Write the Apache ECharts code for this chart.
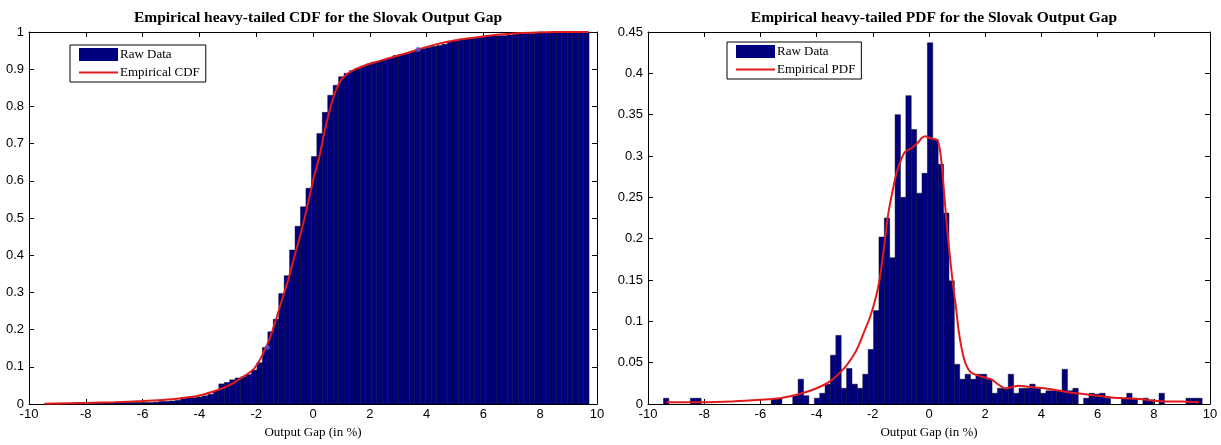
<!DOCTYPE html>
<html>
<head>
<meta charset="utf-8">
<script src="https://cdn.jsdelivr.net/npm/echarts@6/dist/echarts.min.js"></script>
<style>
  html, body { margin: 0; padding: 0; background: #fff; }
  #chart { width: 1221px; height: 445px; }
</style>
</head>
<body>
<div id="chart"></div>
<script>
// Histogram bins: 100 equal-width bins over the sample range
const BIN_START = -9.45;
const BIN_WIDTH = 0.1917;
const BIN_COUNT = 100;

// Cumulative share of observations per bin (left panel)
const cdfValues = [
  0.0015, 0.0015, 0.0015, 0.0015, 0.0015, 0.003, 0.004, 0.004, 0.004, 0.004,
  0.004, 0.004, 0.004, 0.004, 0.004, 0.004, 0.004, 0.004, 0.004, 0.004,
  0.005, 0.007, 0.007, 0.008, 0.010, 0.015, 0.017, 0.017, 0.019, 0.022,
  0.026, 0.035, 0.054, 0.058, 0.065, 0.070, 0.073, 0.079, 0.091, 0.111,
  0.152, 0.194, 0.228, 0.297, 0.345, 0.414, 0.478, 0.530, 0.580, 0.665,
  0.727, 0.784, 0.830, 0.857, 0.880, 0.889, 0.896, 0.902, 0.908, 0.914,
  0.919, 0.922, 0.926, 0.930, 0.937, 0.939, 0.943, 0.947, 0.951, 0.955,
  0.958, 0.961, 0.964, 0.967, 0.975, 0.978, 0.981, 0.981, 0.983, 0.985,
  0.987, 0.989, 0.990, 0.990, 0.990, 0.992, 0.994, 0.995, 0.995, 0.996,
  0.997, 0.997, 0.998, 0.998, 0.998, 0.998, 0.998, 0.999, 0.999, 1.000
];

// Density per bin (right panel)
const pdfValues = [
  0.007, 0, 0, 0, 0, 0.007, 0.007, 0, 0, 0,
  0, 0, 0, 0, 0, 0, 0, 0, 0, 0,
  0.006, 0.006, 0, 0, 0.010, 0.030, 0.010, 0, 0.007, 0.013,
  0.024, 0.059, 0.083, 0.019, 0.043, 0.024, 0.019, 0.036, 0.066, 0.113,
  0.202, 0.225, 0.177, 0.350, 0.250, 0.373, 0.332, 0.255, 0.279, 0.437,
  0.320, 0.290, 0.231, 0.149, 0.048, 0.030, 0.036, 0.030, 0.036, 0.036,
  0.030, 0.013, 0.019, 0.019, 0.036, 0.013, 0.019, 0.019, 0.024, 0.019,
  0.013, 0.016, 0.016, 0.016, 0.042, 0.016, 0.019, 0, 0.007, 0.013,
  0.012, 0.013, 0.007, 0, 0, 0.007, 0.013, 0.007, 0, 0.007,
  0.005, 0, 0.013, 0, 0, 0, 0, 0.007, 0.007, 0.007
];

// Smoothed empirical CDF curve: [gap %, probability]
const cdfCurve = [
  [-9.45, 0.001], [-8, 0.003], [-7, 0.005], [-6, 0.008], [-5.3, 0.011],
  [-4.7, 0.015], [-4.0, 0.023], [-3.3, 0.039], [-2.9, 0.052], [-2.6, 0.066],
  [-2.3, 0.081], [-2.1, 0.093], [-1.9, 0.115], [-1.75, 0.137], [-1.6, 0.162],
  [-1.45, 0.192], [-1.3, 0.228], [-1.15, 0.265], [-1.0, 0.302], [-0.85, 0.340],
  [-0.7, 0.383], [-0.55, 0.425], [-0.4, 0.467], [-0.25, 0.515], [-0.1, 0.565],
  [0.0, 0.600], [0.12, 0.635], [0.24, 0.670], [0.4, 0.730], [0.55, 0.778],
  [0.7, 0.820], [0.85, 0.851], [1.0, 0.872], [1.2, 0.887], [1.5, 0.900],
  [1.9, 0.912], [2.3, 0.921], [2.6, 0.928], [3.0, 0.937], [3.3, 0.943],
  [3.7, 0.953], [4.2, 0.964], [4.7, 0.973], [5.3, 0.981], [6.0, 0.988],
  [6.6, 0.993], [7.3, 0.997], [8.0, 0.999], [8.5, 1.0], [9.0, 1.0], [9.7, 1.0]
];

// Quantile markers on the CDF curve
const cdfMarkers = [[-1.6, 0.152], [3.7, 0.953]];

// Smoothed empirical PDF curve: [gap %, density]
const pdfCurve = [
  [-9.35, 0.002], [-8.5, 0.002], [-8, 0.002], [-7, 0.003], [-6, 0.005],
  [-5.3, 0.007], [-4.6, 0.012], [-4.0, 0.019], [-3.5, 0.028], [-3.0, 0.044],
  [-2.7, 0.058], [-2.5, 0.071], [-2.3, 0.088], [-2.1, 0.105], [-1.9, 0.128],
  [-1.75, 0.152], [-1.6, 0.190], [-1.45, 0.230], [-1.3, 0.257], [-1.15, 0.280],
  [-1.0, 0.295], [-0.85, 0.305], [-0.6, 0.310], [-0.4, 0.316], [-0.25, 0.322],
  [-0.12, 0.324], [0.0, 0.322], [0.12, 0.321], [0.3, 0.319], [0.42, 0.300],
  [0.55, 0.250], [0.65, 0.210], [0.77, 0.170], [0.87, 0.140], [0.95, 0.120],
  [1.05, 0.090], [1.13, 0.073], [1.22, 0.058], [1.3, 0.049], [1.42, 0.041],
  [1.55, 0.037], [1.78, 0.034], [2.0, 0.032], [2.2, 0.030], [2.5, 0.023],
  [2.7, 0.019], [2.9, 0.020], [3.2, 0.022], [3.5, 0.021], [3.8, 0.020],
  [4.1, 0.019], [4.5, 0.017], [5.0, 0.014], [5.5, 0.012], [6.0, 0.010],
  [6.5, 0.008], [7.0, 0.007], [7.5, 0.006], [8.0, 0.004], [8.5, 0.003],
  [9.0, 0.003], [9.6, 0.002]
];

const xTicks = { min: -10, max: 10, interval: 2 };

const BAR_FILL = '#00007f';
const LINE_RED = '#e01b1b';
const SANS = 'Liberation Sans';
const SERIF = 'Liberation Serif';

// [left edge, right edge, height] for each bin
function toBins(values) {
  const out = [];
  for (let i = 0; i < BIN_COUNT; i++) {
    if (values[i] > 0) {
      out.push([BIN_START + i * BIN_WIDTH, BIN_START + (i + 1) * BIN_WIDTH, values[i]]);
    }
  }
  return out;
}

function renderBin(params, api) {
  const top = api.coord([api.value(0), api.value(2)]);
  const base = api.coord([api.value(1), 0]);
  return {
    type: 'rect',
    shape: { x: top[0], y: top[1], width: base[0] - top[0], height: base[1] - top[1] },
    style: { fill: BAR_FILL, stroke: 'rgba(0,0,20,0.75)', lineWidth: 0.6 }
  };
}

function boxAxesX(grid) {
  const common = {
    gridIndex: grid, type: 'value', min: xTicks.min, max: xTicks.max, interval: xTicks.interval,
    axisLine: { show: true, onZero: false, lineStyle: { color: '#000', width: 1 } },
    axisTick: { show: true, inside: true, length: 5, lineStyle: { color: '#000' } },
    splitLine: { show: false }
  };
  return [
    Object.assign({}, common, {
      position: 'bottom',
      axisLabel: { color: '#000', fontFamily: SANS, fontSize: 13, margin: 4 },
      name: 'Output Gap (in %)', nameLocation: 'middle', nameGap: 21,
      nameTextStyle: { color: '#000', fontFamily: SERIF, fontSize: 13 }
    }),
    Object.assign({}, common, { position: 'top', axisLabel: { show: false } })
  ];
}

function boxAxesY(grid, max, interval) {
  const common = {
    gridIndex: grid, type: 'value', min: 0, max: max, interval: interval,
    axisLine: { show: true, onZero: false, lineStyle: { color: '#000', width: 1 } },
    axisTick: { show: true, inside: true, length: 5, lineStyle: { color: '#000' } },
    splitLine: { show: false }
  };
  return [
    Object.assign({}, common, {
      position: 'left',
      axisLabel: { color: '#000', fontFamily: SANS, fontSize: 13, margin: 5 }
    }),
    Object.assign({}, common, { position: 'right', axisLabel: { show: false } })
  ];
}

function legendBox(left, top, lineName) {
  return {
    orient: 'vertical', left: left, top: top,
    itemWidth: 39, itemHeight: 13, itemGap: 5,
    padding: [3, 6, 3, 8],
    borderColor: '#000', borderWidth: 1, backgroundColor: '#fff',
    selectedMode: false,
    textStyle: { color: '#000', fontFamily: SERIF, fontSize: 13, padding: [0, 0, 0, -3] },
    data: [
      { name: 'Raw Data', icon: 'rect' },
      { name: lineName, itemStyle: { opacity: 0 }, lineStyle: { color: LINE_RED, width: 2 } }
    ]
  };
}

const chart = echarts.init(document.getElementById('chart'), null, { renderer: 'canvas' });

chart.setOption({
  animation: false,
  backgroundColor: '#fff',
  title: [
    {
      text: 'Empirical heavy-tailed CDF for the Slovak Output Gap',
      left: 313, top: 5, textAlign: 'center',
      textStyle: { fontFamily: SERIF, fontWeight: 'bold', fontSize: 15.5, color: '#000' }
    },
    {
      text: 'Empirical heavy-tailed PDF for the Slovak Output Gap',
      left: 929, top: 5, textAlign: 'center',
      textStyle: { fontFamily: SERIF, fontWeight: 'bold', fontSize: 15.5, color: '#000' }
    }
  ],
  legend: [legendBox(70, 45, 'Empirical CDF'), legendBox(727, 42, 'Empirical PDF')],
  grid: [
    { left: 29, top: 32, width: 568, height: 372 },
    { left: 648, top: 32, width: 562, height: 372 }
  ],
  xAxis: boxAxesX(0).concat(boxAxesX(1)),
  yAxis: boxAxesY(0, 1, 0.1).concat(boxAxesY(1, 0.45, 0.05)),
  series: [
    {
      name: 'Raw Data', type: 'custom', xAxisIndex: 0, yAxisIndex: 0,
      renderItem: renderBin, encode: { x: [0, 1], y: 2 },
      itemStyle: { color: BAR_FILL }, data: toBins(cdfValues), z: 2
    },
    {
      name: 'Empirical CDF', type: 'line', xAxisIndex: 0, yAxisIndex: 0,
      data: cdfCurve, symbol: 'none', smooth: 0.3,
      lineStyle: { color: LINE_RED, width: 2 }, itemStyle: { color: LINE_RED }, z: 3
    },
    {
      name: 'markers', type: 'scatter', xAxisIndex: 0, yAxisIndex: 0,
      data: cdfMarkers, symbolSize: 5, itemStyle: { color: '#5a4bd6' }, z: 4
    },
    {
      name: 'Raw Data', type: 'custom', xAxisIndex: 2, yAxisIndex: 2,
      renderItem: renderBin, encode: { x: [0, 1], y: 2 },
      itemStyle: { color: BAR_FILL }, data: toBins(pdfValues), z: 2
    },
    {
      name: 'Empirical PDF', type: 'line', xAxisIndex: 2, yAxisIndex: 2,
      data: pdfCurve, symbol: 'none', smooth: 0.3,
      lineStyle: { color: LINE_RED, width: 2 }, itemStyle: { color: LINE_RED }, z: 3
    }
  ]
});
</script>
</body>
</html>
